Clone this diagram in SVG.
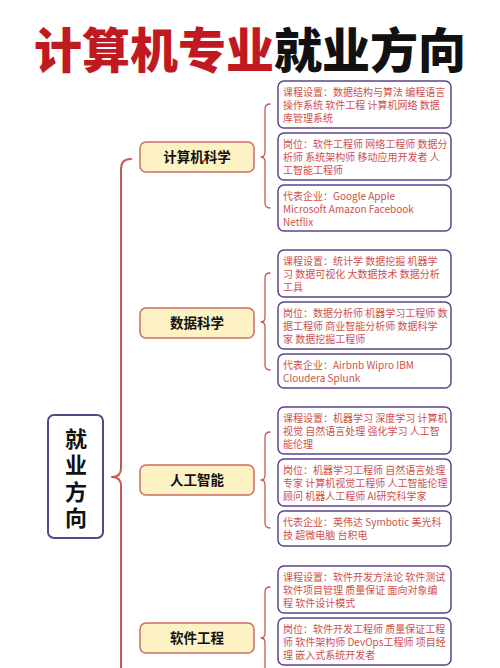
<svg xmlns="http://www.w3.org/2000/svg" width="500" height="668" viewBox="0 0 500 668">
<style>
text{font-family:"Noto Sans CJK SC","Noto Sans",sans-serif}
.title{font-size:48px;font-weight:900}
.root{fill:#fff;stroke:#5b4488;stroke-width:2}
.roott{font-size:22px;font-weight:700;fill:#111;text-anchor:middle}
.cat{fill:#fdf2c4;stroke:#cf6d63;stroke-width:1.5}
.catt{font-size:13.5px;font-weight:700;fill:#111;text-anchor:middle}
.leaf{fill:#fff;stroke:#5b4488;stroke-width:1.5}
.leaft{font-size:10px;fill:#cf5049}
.brace{fill:none;stroke:#c25a55;stroke-linecap:round;stroke-linejoin:round}
.big{stroke-width:2}
.small{stroke-width:1.3}
</style>
<rect width="500" height="668" fill="#fff"/>
<text class="title" x="250" y="68" text-anchor="middle"><tspan fill="#c0191f">计算机专业</tspan><tspan fill="#111">就业方向</tspan></text>
<g id="connectors">
<path class="brace big" d="M131,159 Q121,159 121,169 L121,468 Q121,477 112,477 Q121,477 121,486 L121,670"/>
<path class="brace small" d="M270,104 Q265,104 265,109 L265,152 Q265,157 261,157 Q265,157 265,162 L265,203 Q265,208 270,208"/>
<path class="brace small" d="M270,273 Q265,273 265,278 L265,317 Q265,322 261,322 Q265,322 265,327 L265,365 Q265,370 270,370"/>
<path class="brace small" d="M270,432 Q265,432 265,437 L265,475 Q265,480 261,480 Q265,480 265,485 L265,523 Q265,528 270,528"/>
<path class="brace small" d="M270,587 Q265,587 265,592 L265,633 Q265,638 261,638 Q265,638 265,643 L265,670"/>
</g>
<g id="root">
<rect class="root" x="48" y="415" width="55" height="123" rx="6"/>
<text class="roott"><tspan x="76" y="447">就</tspan><tspan x="76" y="473">业</tspan><tspan x="76" y="500">方</tspan><tspan x="76" y="526">向</tspan></text>
</g>
<g id="cat-cs"><rect class="cat" x="140" y="142" width="114" height="30" rx="6"/><text class="catt" x="197" y="162">计算机科学</text></g>
<g id="cat-ds"><rect class="cat" x="140" y="308" width="114" height="30" rx="6"/><text class="catt" x="197" y="328">数据科学</text></g>
<g id="cat-ai"><rect class="cat" x="140" y="465" width="114" height="30" rx="6"/><text class="catt" x="197" y="485">人工智能</text></g>
<g id="cat-se"><rect class="cat" x="140" y="623" width="114" height="30" rx="6"/><text class="catt" x="197" y="643">软件工程</text></g>

<g id="cs-course"><rect class="leaf" x="278" y="81" width="173" height="47" rx="6"/>
<text class="leaft"><tspan x="283" y="95.5">课程设置：数据结构与算法 编程语言</tspan><tspan x="283" y="108.7">操作系统 软件工程 计算机网络 数据</tspan><tspan x="283" y="121.9">库管理系统</tspan></text></g>
<g id="cs-job"><rect class="leaf" x="278" y="133" width="173" height="47" rx="6"/>
<text class="leaft"><tspan x="283" y="147.5">岗位：软件工程师 网络工程师 数据分</tspan><tspan x="283" y="160.7">析师 系统架构师 移动应用开发者 人</tspan><tspan x="283" y="173.9">工智能工程师</tspan></text></g>
<g id="cs-company"><rect class="leaf" x="278" y="185" width="173" height="46" rx="6"/>
<text class="leaft"><tspan x="283" y="199.5">代表企业：Google Apple</tspan><tspan x="283" y="212.7">Microsoft Amazon Facebook</tspan><tspan x="283" y="225.9">Netflix</tspan></text></g>

<g id="ds-course"><rect class="leaf" x="278" y="250" width="173" height="47" rx="6"/>
<text class="leaft"><tspan x="283" y="264.5">课程设置：统计学 数据挖掘 机器学</tspan><tspan x="283" y="277.7">习 数据可视化 大数据技术 数据分析</tspan><tspan x="283" y="290.9">工具</tspan></text></g>
<g id="ds-job"><rect class="leaf" x="278" y="302" width="173" height="47" rx="6"/>
<text class="leaft"><tspan x="283" y="316.5">岗位：数据分析师 机器学习工程师 数</tspan><tspan x="283" y="329.7">据工程师 商业智能分析师 数据科学</tspan><tspan x="283" y="342.9">家 数据挖掘工程师</tspan></text></g>
<g id="ds-company"><rect class="leaf" x="278" y="354" width="173" height="34" rx="6"/>
<text class="leaft"><tspan x="283" y="368.5">代表企业：Airbnb Wipro IBM</tspan><tspan x="283" y="381.7">Cloudera Splunk</tspan></text></g>

<g id="ai-course"><rect class="leaf" x="278" y="407" width="173" height="47" rx="6"/>
<text class="leaft"><tspan x="283" y="421.5">课程设置：机器学习 深度学习 计算机</tspan><tspan x="283" y="434.7">视觉 自然语言处理 强化学习 人工智</tspan><tspan x="283" y="447.9">能伦理</tspan></text></g>
<g id="ai-job"><rect class="leaf" x="278" y="459" width="173" height="47" rx="6"/>
<text class="leaft"><tspan x="283" y="473.5">岗位：机器学习工程师 自然语言处理</tspan><tspan x="283" y="486.7">专家 计算机视觉工程师 人工智能伦理</tspan><tspan x="283" y="499.9">顾问 机器人工程师 AI研究科学家</tspan></text></g>
<g id="ai-company"><rect class="leaf" x="278" y="511" width="173" height="35" rx="6"/>
<text class="leaft"><tspan x="283" y="525.5">代表企业：英伟达 Symbotic 美光科</tspan><tspan x="283" y="538.7">技 超微电脑 台积电</tspan></text></g>

<g id="se-course"><rect class="leaf" x="278" y="566" width="173" height="47" rx="6"/>
<text class="leaft"><tspan x="283" y="580.5">课程设置：软件开发方法论 软件测试</tspan><tspan x="283" y="593.7">软件项目管理 质量保证 面向对象编</tspan><tspan x="283" y="606.9">程 软件设计模式</tspan></text></g>
<g id="se-job"><rect class="leaf" x="278" y="618" width="173" height="47" rx="6"/>
<text class="leaft"><tspan x="283" y="632.5">岗位：软件开发工程师 质量保证工程</tspan><tspan x="283" y="645.7">师 软件架构师 DevOps工程师 项目经</tspan><tspan x="283" y="658.9">理 嵌入式系统开发者</tspan></text></g>
</svg>
